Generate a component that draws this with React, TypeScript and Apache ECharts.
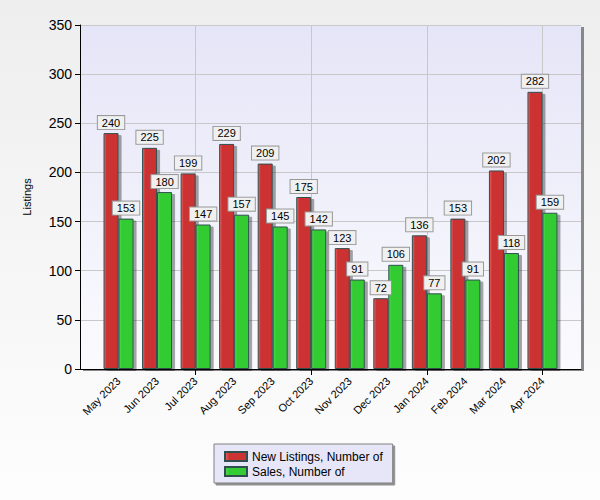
import React, { useEffect, useRef } from "react";
import * as echarts from "echarts";

const months = [
  "May 2023", "Jun 2023", "Jul 2023", "Aug 2023", "Sep 2023", "Oct 2023",
  "Nov 2023", "Dec 2023", "Jan 2024", "Feb 2024", "Mar 2024", "Apr 2024",
];
const newListings = [240, 225, 199, 229, 209, 175, 123, 72, 136, 153, 202, 282];
const sales = [153, 180, 147, 157, 145, 142, 91, 106, 77, 91, 118, 159];
const yTicks = [0, 50, 100, 150, 200, 250, 300, 350];

export default function App() {
  const ref = useRef<HTMLDivElement>(null);
  useEffect(() => {
    if (!ref.current) return;
    const chart = echarts.init(ref.current, null, { renderer: "svg" });
    const cats = ["", ...months, ""];
    const pad = (arr: number[]) => [null, ...arr, null];
    const tickInt = (i: number) => i > 0 && i < cats.length - 1 && i % 3 === 0;
    const labelStyle = {
      show: true,
      position: "top",
      distance: 4,
      fontSize: 11,
      fontFamily: "Arial, Liberation Sans, sans-serif",
      color: "#000",
      backgroundColor: "#f0f0f0",
      borderColor: "#999999",
      borderWidth: 1,
      padding: [1, 4, 1, 4],
      lineHeight: 11,
    };
    chart.setOption({
      animation: false,
      backgroundColor: new echarts.graphic.LinearGradient(0, 0, 0, 1, [
        { offset: 0, color: "#eeeeee" },
        { offset: 1, color: "#fdfdfd" },
      ]),
      textStyle: { fontFamily: "Arial, Liberation Sans, sans-serif" },
      grid: {
        left: 80,
        top: 25,
        right: 19,
        bottom: 131,
        show: true,
        borderWidth: 0,
        backgroundColor: new echarts.graphic.LinearGradient(0, 0, 0, 1, [
          { offset: 0, color: "#e5e5f8" },
          { offset: 1, color: "#fbfbfe" },
        ]),
        shadowColor: "#888888",
        shadowOffsetX: 3,
        shadowOffsetY: 2,
        shadowBlur: 0,
      },
      legend: {
        orient: "vertical",
        left: 214,
        top: 444,
        itemWidth: 22,
        itemHeight: 9,
        itemGap: 2,
        padding: [6, 10, 5, 10],
        backgroundColor: "#e6e6f8",
        borderColor: "#808080",
        borderWidth: 1,
        shadowColor: "#909090",
        shadowOffsetX: 2,
        shadowOffsetY: 2,
        shadowBlur: 0,
        icon: "rect",
        textStyle: { fontSize: 12, color: "#000", lineHeight: 13 },
        data: ["New Listings, Number of", "Sales, Number of"],
      },
      xAxis: {
        type: "category",
        data: cats,
        boundaryGap: false,
        axisLine: { lineStyle: { color: "#000", width: 1 } },
        axisTick: { show: true, interval: tickInt, length: 6, lineStyle: { color: "#000" } },
        axisLabel: { interval: 0, rotate: 45, fontSize: 11, color: "#000", margin: 10 },
        splitLine: { show: true, interval: tickInt, lineStyle: { color: "#c8c8c8" } },
      },
      yAxis: {
        type: "value",
        min: yTicks[0],
        max: yTicks[yTicks.length - 1],
        interval: 50,
        name: "Listings",
        nameLocation: "middle",
        nameGap: 48,
        nameTextStyle: { fontSize: 11, color: "#000" },
        axisLine: { show: true, lineStyle: { color: "#000" } },
        axisTick: { show: true, length: 5, lineStyle: { color: "#000" } },
        axisLabel: { fontSize: 14, color: "#000", margin: 8 },
        splitLine: { show: true, lineStyle: { color: "#c8c8c8" } },
      },
      series: [
        {
          name: "New Listings, Number of",
          type: "bar",
          data: pad(newListings),
          barWidth: 15,
          barGap: "0%",
          itemStyle: {
            color: new echarts.graphic.LinearGradient(0, 0, 1, 0, [
              { offset: 0, color: "#ea6868" },
              { offset: 0.18, color: "#cc3333" },
              { offset: 1, color: "#cc3333" },
            ]),
            borderColor: "#2f4f4f",
            borderWidth: 1,
            shadowColor: "rgba(0,0,0,0.35)",
            shadowOffsetX: 3,
            shadowOffsetY: 2,
            shadowBlur: 1,
          },
          label: labelStyle,
        },
        {
          name: "Sales, Number of",
          type: "bar",
          data: pad(sales),
          barWidth: 15,
          barGap: "0%",
          itemStyle: {
            color: new echarts.graphic.LinearGradient(0, 0, 1, 0, [
              { offset: 0, color: "#55dd55" },
              { offset: 0.18, color: "#33cc33" },
              { offset: 1, color: "#33cc33" },
            ]),
            borderColor: "#2f4f4f",
            borderWidth: 1,
            shadowColor: "rgba(0,0,0,0.35)",
            shadowOffsetX: 3,
            shadowOffsetY: 2,
            shadowBlur: 1,
          },
          label: labelStyle,
        },
      ],
    });
    return () => chart.dispose();
  }, []);
  return (
    <div
      ref={ref}
      style={{ position: "fixed", left: 0, top: 0, width: 600, height: 500 }}
    />
  );
}
